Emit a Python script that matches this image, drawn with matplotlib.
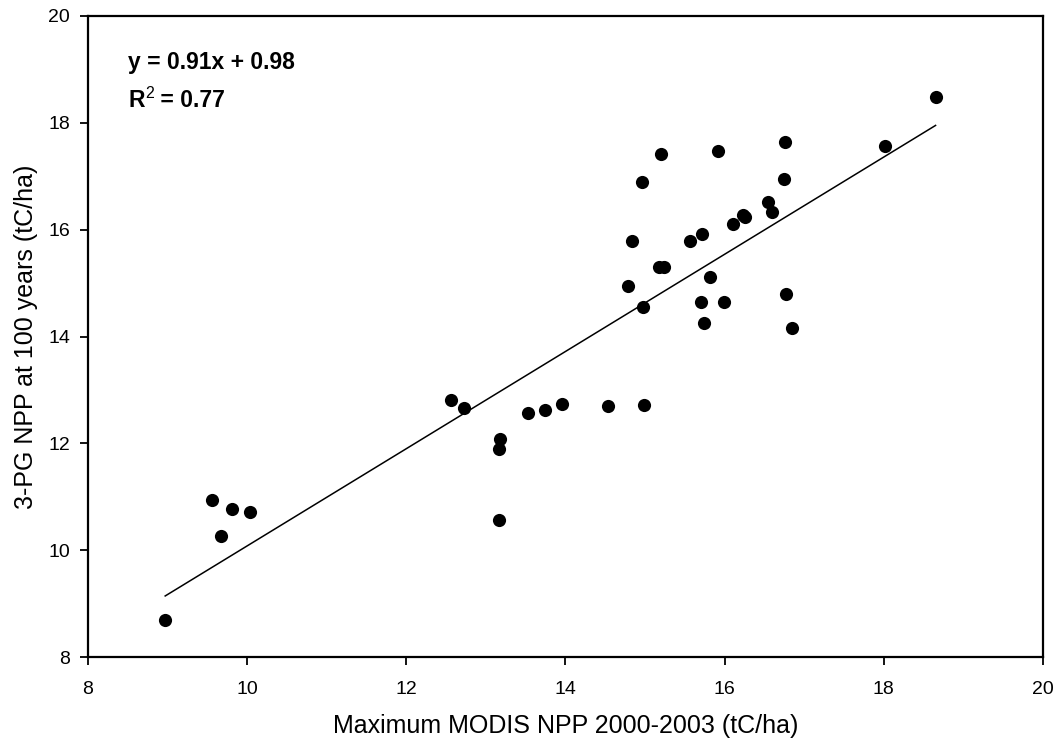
import numpy as np
import matplotlib
matplotlib.use("Agg")
import matplotlib.pyplot as plt
from matplotlib import font_manager

plt.rcParams["font.family"] = ["Liberation Sans", "DejaVu Sans"]

# Maximum MODIS NPP 2000-2003 (tC/ha)
modis_npp = [
    8.97, 9.56, 9.67, 9.81, 10.03,
    12.56, 12.72, 13.18, 13.17, 13.17, 13.53, 13.74, 13.95, 14.53, 14.99,
    15.20, 15.92, 16.76, 14.96, 16.75, 16.55, 16.59, 16.23, 16.26, 16.10,
    14.84, 15.57, 15.72, 15.17, 15.24, 14.79, 15.82, 14.98, 15.70, 15.99,
    15.74, 16.77, 16.84, 18.02, 18.65,
]
# 3-PG NPP at 100 years (tC/ha)
pg_npp = [
    8.70, 10.93, 10.27, 10.77, 10.72,
    12.82, 12.67, 12.09, 11.89, 10.56, 12.56, 12.63, 12.74, 12.69, 12.72,
    17.41, 17.47, 17.64, 16.90, 16.95, 16.52, 16.33, 16.27, 16.24, 16.11,
    15.78, 15.78, 15.92, 15.30, 15.30, 14.94, 15.11, 14.55, 14.65, 14.65,
    14.26, 14.79, 14.16, 17.56, 18.49,
]

slope, intercept = 0.91, 0.98
r_squared = 0.77

x_ticks = [8, 10, 12, 14, 16, 18, 20]
y_ticks = [8, 10, 12, 14, 16, 18, 20]

# pick the regular-width bold face (avoid the Narrow variant)
bold_file = None
for f in font_manager.fontManager.ttflist:
    if f.name == "Liberation Sans" and f.weight in (700, "bold") and f.style == "normal" \
            and "Narrow" not in f.fname:
        bold_file = f.fname
        break
bold_fp = font_manager.FontProperties(fname=bold_file, size=16.5) if bold_file else \
    font_manager.FontProperties(family="Liberation Sans", weight="bold", size=16.5)

fig = plt.figure(figsize=(10.56, 7.44), dpi=100)
ax = fig.add_axes([88 / 1056, 1 - 657 / 744, (1043 - 88) / 1056, (657 - 16) / 744])

ax.scatter(modis_npp, pg_npp, s=90, color="black", zorder=3, linewidths=0)

# fitted line over the data range
xl = np.array([min(modis_npp), max(modis_npp)])
ax.plot(xl, slope * xl + intercept, color="black", lw=1.1, zorder=2)

ax.set_xlim(8, 20)
ax.set_ylim(8, 20)
ax.set_xticks(x_ticks)
ax.set_yticks(y_ticks)

for sp in ax.spines.values():
    sp.set_linewidth(1.6)
ax.tick_params(direction="out", length=5.5, width=1.3, labelsize=14,
               top=False, right=False)
ax.tick_params(axis="x", pad=12)
ax.tick_params(axis="y", pad=7.5)

ax.set_xlabel("Maximum MODIS NPP 2000-2003 (tC/ha)", fontsize=18, labelpad=11)
ax.set_ylabel("3-PG NPP at 100 years (tC/ha)", fontsize=18, labelpad=7)

fig.text(128 / 1056, 1 - 69 / 744, f"y = {slope}x + {intercept}",
         fontproperties=bold_fp, ha="left", va="baseline")
fig.text(128 / 1056, 1 - 107 / 744, "R", fontproperties=bold_fp,
         ha="left", va="baseline")
fig.text(145 / 1056, 1 - 98 / 744, "2", fontsize=11.5, ha="left", va="baseline")
fig.text(154 / 1056, 1 - 107 / 744, f" = {r_squared}", fontproperties=bold_fp,
         ha="left", va="baseline")

fig.savefig("out.png", dpi=100, facecolor="white")
